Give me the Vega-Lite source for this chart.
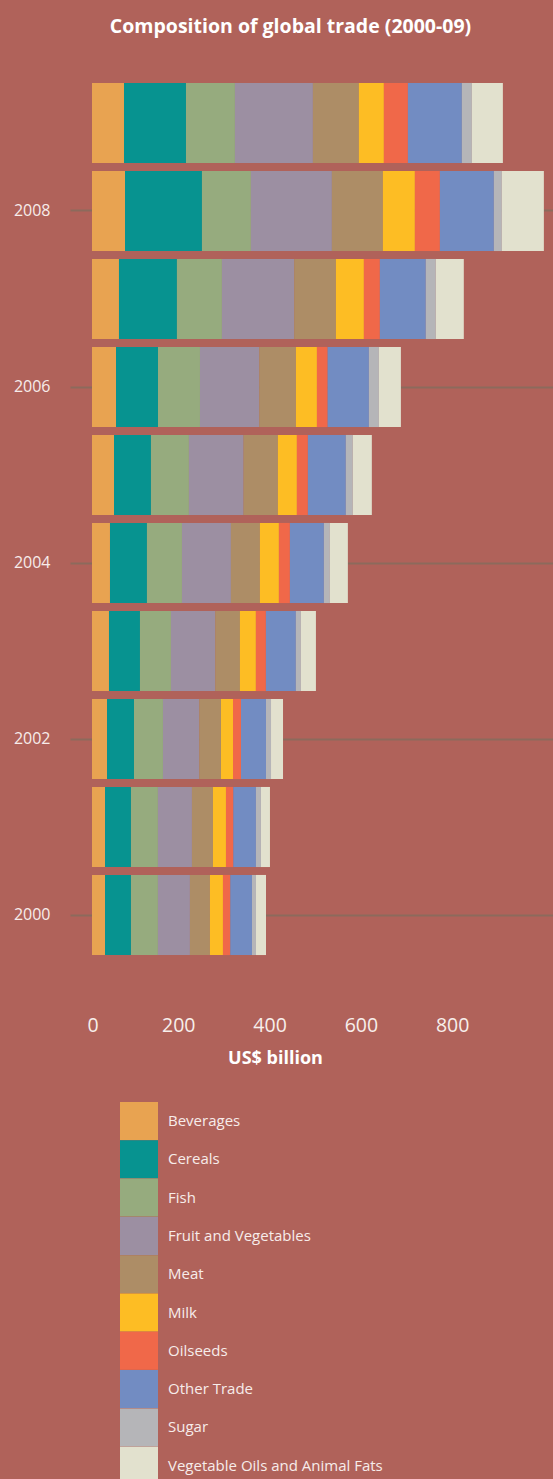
{
  "$schema": "https://vega.github.io/schema/vega-lite/v6.json",
  "autosize": {"type": "none"},
  "padding": {"left": 92, "top": 79, "right": 0, "bottom": 520},
  "width": 461,
  "height": 880,
  "background": "#b0625a",
  "title": {
    "text": "Composition of global trade (2000-09)",
    "anchor": "middle",
    "frame": "group",
    "dx": -32,
    "offset": 27,
    "baseline": "alphabetic",
    "fontSize": 19.5,
    "font": "Open Sans",
    "fontWeight": "bold",
    "color": "#ffffff"
  },
  "data": {
    "values": [
      {"year": 2009, "cat": "Beverages", "value": 70.1},
      {"year": 2009, "cat": "Cereals", "value": 135.8},
      {"year": 2009, "cat": "Fish", "value": 107.3},
      {"year": 2009, "cat": "Fruit and Vegetables", "value": 170.8},
      {"year": 2009, "cat": "Meat", "value": 100.7},
      {"year": 2009, "cat": "Milk", "value": 54.8},
      {"year": 2009, "cat": "Oilseeds", "value": 52.6},
      {"year": 2009, "cat": "Other Trade", "value": 118.3},
      {"year": 2009, "cat": "Sugar", "value": 21.9},
      {"year": 2009, "cat": "Vegetable Oils and Animal Fats", "value": 67.9},
      {"year": 2008, "cat": "Beverages", "value": 72.3},
      {"year": 2008, "cat": "Cereals", "value": 168.6},
      {"year": 2008, "cat": "Fish", "value": 107.3},
      {"year": 2008, "cat": "Fruit and Vegetables", "value": 177.4},
      {"year": 2008, "cat": "Meat", "value": 111.7},
      {"year": 2008, "cat": "Milk", "value": 70.1},
      {"year": 2008, "cat": "Oilseeds", "value": 54.8},
      {"year": 2008, "cat": "Other Trade", "value": 118.3},
      {"year": 2008, "cat": "Sugar", "value": 17.5},
      {"year": 2008, "cat": "Vegetable Oils and Animal Fats", "value": 92.0},
      {"year": 2007, "cat": "Beverages", "value": 59.1},
      {"year": 2007, "cat": "Cereals", "value": 127.0},
      {"year": 2007, "cat": "Fish", "value": 98.6},
      {"year": 2007, "cat": "Fruit and Vegetables", "value": 158.4},
      {"year": 2007, "cat": "Meat", "value": 91.3},
      {"year": 2007, "cat": "Milk", "value": 61.3},
      {"year": 2007, "cat": "Oilseeds", "value": 35.0},
      {"year": 2007, "cat": "Other Trade", "value": 100.7},
      {"year": 2007, "cat": "Sugar", "value": 21.9},
      {"year": 2007, "cat": "Vegetable Oils and Animal Fats", "value": 61.3},
      {"year": 2006, "cat": "Beverages", "value": 52.6},
      {"year": 2006, "cat": "Cereals", "value": 92.0},
      {"year": 2006, "cat": "Fish", "value": 92.0},
      {"year": 2006, "cat": "Fruit and Vegetables", "value": 129.9},
      {"year": 2006, "cat": "Meat", "value": 80.3},
      {"year": 2006, "cat": "Milk", "value": 46.0},
      {"year": 2006, "cat": "Oilseeds", "value": 23.4},
      {"year": 2006, "cat": "Other Trade", "value": 90.5},
      {"year": 2006, "cat": "Sugar", "value": 21.9},
      {"year": 2006, "cat": "Vegetable Oils and Animal Fats", "value": 48.2},
      {"year": 2005, "cat": "Beverages", "value": 48.2},
      {"year": 2005, "cat": "Cereals", "value": 81.0},
      {"year": 2005, "cat": "Fish", "value": 83.2},
      {"year": 2005, "cat": "Fruit and Vegetables", "value": 119.7},
      {"year": 2005, "cat": "Meat", "value": 75.2},
      {"year": 2005, "cat": "Milk", "value": 41.6},
      {"year": 2005, "cat": "Oilseeds", "value": 24.1},
      {"year": 2005, "cat": "Other Trade", "value": 83.2},
      {"year": 2005, "cat": "Sugar", "value": 15.3},
      {"year": 2005, "cat": "Vegetable Oils and Animal Fats", "value": 41.6},
      {"year": 2004, "cat": "Beverages", "value": 39.4},
      {"year": 2004, "cat": "Cereals", "value": 81.0},
      {"year": 2004, "cat": "Fish", "value": 76.7},
      {"year": 2004, "cat": "Fruit and Vegetables", "value": 107.3},
      {"year": 2004, "cat": "Meat", "value": 63.5},
      {"year": 2004, "cat": "Milk", "value": 41.6},
      {"year": 2004, "cat": "Oilseeds", "value": 24.1},
      {"year": 2004, "cat": "Other Trade", "value": 74.5},
      {"year": 2004, "cat": "Sugar", "value": 13.1},
      {"year": 2004, "cat": "Vegetable Oils and Animal Fats", "value": 39.4},
      {"year": 2003, "cat": "Beverages", "value": 37.2},
      {"year": 2003, "cat": "Cereals", "value": 67.9},
      {"year": 2003, "cat": "Fish", "value": 67.9},
      {"year": 2003, "cat": "Fruit and Vegetables", "value": 97.1},
      {"year": 2003, "cat": "Meat", "value": 54.0},
      {"year": 2003, "cat": "Milk", "value": 35.0},
      {"year": 2003, "cat": "Oilseeds", "value": 21.9},
      {"year": 2003, "cat": "Other Trade", "value": 65.7},
      {"year": 2003, "cat": "Sugar", "value": 11.0},
      {"year": 2003, "cat": "Vegetable Oils and Animal Fats", "value": 32.9},
      {"year": 2002, "cat": "Beverages", "value": 32.9},
      {"year": 2002, "cat": "Cereals", "value": 59.1},
      {"year": 2002, "cat": "Fish", "value": 63.5},
      {"year": 2002, "cat": "Fruit and Vegetables", "value": 79.6},
      {"year": 2002, "cat": "Meat", "value": 47.5},
      {"year": 2002, "cat": "Milk", "value": 26.3},
      {"year": 2002, "cat": "Oilseeds", "value": 17.5},
      {"year": 2002, "cat": "Other Trade", "value": 54.8},
      {"year": 2002, "cat": "Sugar", "value": 11.0},
      {"year": 2002, "cat": "Vegetable Oils and Animal Fats", "value": 26.3},
      {"year": 2001, "cat": "Beverages", "value": 28.5},
      {"year": 2001, "cat": "Cereals", "value": 56.9},
      {"year": 2001, "cat": "Fish", "value": 59.1},
      {"year": 2001, "cat": "Fruit and Vegetables", "value": 74.5},
      {"year": 2001, "cat": "Meat", "value": 46.0},
      {"year": 2001, "cat": "Milk", "value": 28.5},
      {"year": 2001, "cat": "Oilseeds", "value": 16.1},
      {"year": 2001, "cat": "Other Trade", "value": 49.6},
      {"year": 2001, "cat": "Sugar", "value": 11.0},
      {"year": 2001, "cat": "Vegetable Oils and Animal Fats", "value": 19.7},
      {"year": 2000, "cat": "Beverages", "value": 28.5},
      {"year": 2000, "cat": "Cereals", "value": 56.9},
      {"year": 2000, "cat": "Fish", "value": 59.1},
      {"year": 2000, "cat": "Fruit and Vegetables", "value": 70.1},
      {"year": 2000, "cat": "Meat", "value": 43.8},
      {"year": 2000, "cat": "Milk", "value": 28.5},
      {"year": 2000, "cat": "Oilseeds", "value": 16.1},
      {"year": 2000, "cat": "Other Trade", "value": 47.5},
      {"year": 2000, "cat": "Sugar", "value": 8.8},
      {"year": 2000, "cat": "Vegetable Oils and Animal Fats", "value": 21.9}
    ]
  },
  "mark": {"type": "bar"},
  "encoding": {
    "y": {
      "field": "year",
      "type": "ordinal",
      "sort": "descending",
      "scale": {"paddingInner": 0.09, "paddingOuter": 0.045},
      "axis": {
        "title": null,
        "values": [2008, 2006, 2004, 2002, 2000],
        "domain": false,
        "ticks": true,
        "tickSize": 22,
        "tickColor": "#8c6a5c",
        "tickWidth": 2,
        "grid": true,
        "gridColor": "#8c6a5c",
        "gridWidth": 2,
        "bandPosition": 0.5,
        "labelPadding": 20,
        "labelFontSize": 16,
        "labelFont": "Open Sans",
        "labelColor": "#f7ecea"
      }
    },
    "x": {
      "field": "value",
      "type": "quantitative",
      "stack": "zero",
      "scale": {"domain": [0, 1010], "nice": false},
      "axis": {
        "title": "US$ billion",
        "values": [0, 200, 400, 600, 800],
        "domain": false,
        "ticks": false,
        "tickSize": 0,
        "grid": false,
        "labelOffset": -5,
        "labelPadding": 57,
        "labelFontSize": 19.5,
        "labelFont": "Open Sans",
        "labelFontWeight": "normal",
        "labelColor": "#f7efec",
        "titleFontSize": 18,
        "titleFont": "Open Sans",
        "titleFontWeight": "bold",
        "titleColor": "#ffffff",
        "titleX": 183,
        "titleY": 90,
        "titleAlign": "center",
        "titleBaseline": "top"
      }
    },
    "color": {
      "field": "cat",
      "type": "nominal",
      "scale": {
        "domain": ["Beverages", "Cereals", "Fish", "Fruit and Vegetables", "Meat", "Milk", "Oilseeds", "Other Trade", "Sugar", "Vegetable Oils and Animal Fats"],
        "range": ["#e8a351", "#079390", "#96ab7e", "#9c8fa2", "#ad8d66", "#fdbd24", "#f06849", "#728cc2", "#b5b5b8", "#e2e1ce"]
      },
      "legend": {
        "title": null,
        "orient": "none",
        "legendX": 28,
        "legendY": 1023,
        "padding": 0,
        "symbolType": "square",
        "symbolSize": 1444,
        "symbolStrokeWidth": 0,
        "symbolOpacity": 1,
        "rowPadding": 0.3,
        "labelOffset": 10,
        "labelFontSize": 15,
        "labelFont": "Open Sans",
        "labelColor": "#f7ecea",
        "labelLimit": 400
      }
    }
  },
  "config": {"view": {"stroke": null}}
}
